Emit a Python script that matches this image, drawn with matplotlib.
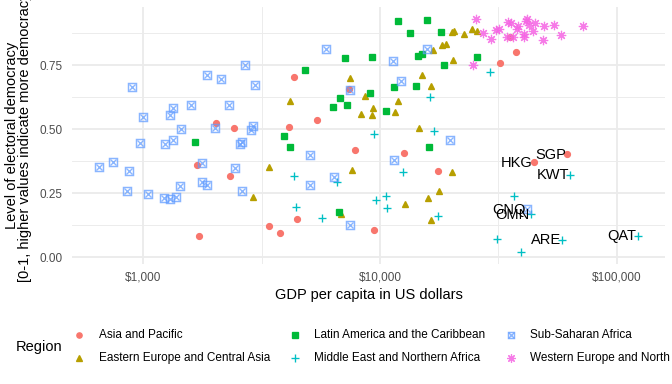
import matplotlib
matplotlib.use('Agg')
import matplotlib.pyplot as plt
from matplotlib.lines import Line2D
from matplotlib.ticker import FixedLocator, FuncFormatter, NullFormatter

plt.rcParams['font.family'] = ['Liberation Sans', 'DejaVu Sans']

# GDP per capita (US$) and electoral democracy index, by region
asia_gdp = [2020, 2420, 4330, 5430, 4120, 1690, 2320, 3380, 1710, 3780, 4460, 7850, 12600,
            17600, 9440, 7380, 35400, 37600, 32200, 61800, 44800]
asia_dem = [0.523, 0.507, 0.705, 0.538, 0.509, 0.361, 0.318, 0.123, 0.085, 0.095, 0.150, 0.420,
            0.406, 0.338, 0.108, 0.658, 0.859, 0.802, 0.759, 0.404, 0.371]

eeca_gdp = [4180, 3380, 2900, 7480, 8630, 9320, 8300, 9260, 20100, 20500, 22600, 24400, 25600,
            16800, 18300, 18900, 20300, 15000, 16400, 11900, 11600, 14600, 7620, 20200, 12800,
            16000, 17700, 6810, 16400]
eeca_dem = [0.612, 0.354, 0.237, 0.702, 0.632, 0.585, 0.560, 0.556, 0.879, 0.883, 0.874, 0.892,
            0.883, 0.810, 0.831, 0.834, 0.771, 0.713, 0.671, 0.612, 0.569, 0.504, 0.343, 0.335,
            0.210, 0.233, 0.259, 0.170, 0.147]

lac_gdp = [4800, 6320, 6760, 3910, 4180, 1650, 7120, 9260, 9080, 7260, 10600, 11900, 15800,
           13400, 18100, 14400, 15100, 18700, 11500, 14200, 25600, 16100, 6680]
lac_dem = [0.730, 0.588, 0.624, 0.475, 0.431, 0.451, 0.779, 0.783, 0.642, 0.595, 0.572, 0.922,
           0.927, 0.877, 0.880, 0.787, 0.796, 0.752, 0.664, 0.668, 0.781, 0.431, 0.177]

mena_gdp = [29200, 16200, 9410, 16900, 12500, 17600, 9570, 10600, 10700, 4340, 4410, 5680, 6600,
            36900, 43500, 31300, 39300, 58700, 123000, 63500]
mena_dem = [0.725, 0.627, 0.481, 0.495, 0.333, 0.163, 0.225, 0.241, 0.193, 0.319, 0.198, 0.155,
            0.294, 0.239, 0.168, 0.073, 0.020, 0.069, 0.085, 0.323]

ssa_gdp = [2680, 1860, 2120, 2960, 895, 1330, 1590, 2310, 993, 1300, 1440, 2000, 2900, 2850,
           5920, 967, 1230, 1330, 2560, 2610, 649, 744, 867, 1770, 2430, 1430, 1760, 1850, 2600,
           856, 1050, 1220, 1300, 1370, 5080, 6360, 5070, 11300, 15800, 12200, 7450, 11400,
           19700, 7430, 41800]
ssa_dem = [0.752, 0.711, 0.698, 0.675, 0.666, 0.584, 0.596, 0.594, 0.550, 0.555, 0.503, 0.504,
           0.514, 0.496, 0.814, 0.447, 0.444, 0.460, 0.443, 0.451, 0.352, 0.374, 0.338, 0.367,
           0.349, 0.280, 0.293, 0.281, 0.259, 0.261, 0.248, 0.232, 0.227, 0.234, 0.399, 0.315,
           0.283, 0.766, 0.815, 0.689, 0.652, 0.379, 0.459, 0.125, 0.189]

weu_gdp = [25500, 27100, 29400, 30900, 31900, 34800, 35700, 34500, 36300, 38400, 38000, 41600,
           41400, 42500, 40400, 40400, 45300, 44300, 49100, 48700, 54200, 58200, 72200, 24600]
weu_dem = [0.930, 0.877, 0.853, 0.886, 0.892, 0.918, 0.917, 0.859, 0.861, 0.902, 0.893, 0.932,
           0.923, 0.909, 0.873, 0.859, 0.917, 0.884, 0.905, 0.848, 0.909, 0.869, 0.904, 0.753]

regions = ['Asia and Pacific', 'Eastern Europe and Central Asia',
           'Latin America and the Caribbean', 'Middle East and Northern Africa',
           'Sub-Saharan Africa', 'Western Europe and North America']
series = [(asia_gdp, asia_dem), (eeca_gdp, eeca_dem), (lac_gdp, lac_dem),
          (mena_gdp, mena_dem), (ssa_gdp, ssa_dem), (weu_gdp, weu_dem)]
colors = ['#F8766D', '#B79F00', '#00BA38', '#00BFC4', '#619CFF', '#F564E3']

# labelled countries: code, region index, point index
labelled = [('SGP', 0, 19), ('HKG', 0, 20), ('KWT', 3, 19), ('GNQ', 4, 44),
            ('OMN', 3, 14), ('ARE', 3, 17), ('QAT', 3, 18)]


def marker_styles(i, scale=1.0):
    c = colors[i]
    if i == 0:
        return [dict(marker='o', ms=4.4 * scale, color=c, mec=c)]
    if i == 1:
        return [dict(marker='^', ms=5 * scale, color=c, mec=c)]
    if i == 2:
        return [dict(marker='s', ms=4.3 * scale, color=c, mec=c)]
    if i == 3:
        return [dict(marker='+', ms=6.5 * scale, color=c, mew=1)]
    if i == 4:
        return [dict(marker='s', ms=5.3 * scale, mfc='none', mec=c, mew=1.1, alpha=0.75),
                dict(marker='x', ms=4.6 * scale, color=c, mew=1.0, alpha=0.75)]
    return [dict(marker=(8, 2, 0), ms=7 * scale, color=c, mew=0.9, alpha=0.85)]


fig = plt.figure(figsize=(7, 4), dpi=96)
ax = fig.add_axes([72 / 672, 1 - 264 / 384, (665 - 72) / 672, (264 - 7) / 384])

for i, (x, y) in enumerate(series):
    for st in marker_styles(i):
        ax.plot(x, y, ls='none', **st)

for code, r, k in labelled:
    ax.annotate(code, (series[r][0][k], series[r][1][k]), xytext=(-1, -0.5),
                textcoords='offset points', ha='right', va='center', fontsize=11)

ax.set_xscale('log')
ax.xaxis.set_major_locator(FixedLocator([1000, 10000, 100000]))
ax.xaxis.set_minor_locator(FixedLocator([316.2, 3162, 31623, 316228]))
ax.xaxis.set_major_formatter(FuncFormatter(lambda v, p: '${:,.0f}'.format(v)))
ax.xaxis.set_minor_formatter(NullFormatter())
ax.yaxis.set_major_locator(FixedLocator([0, 0.25, 0.5, 0.75]))
ax.yaxis.set_minor_locator(FixedLocator([0.125, 0.375, 0.625, 0.875]))
ax.yaxis.set_major_formatter(FuncFormatter(lambda v, p: '{:.2f}'.format(v)))

ax.grid(which='major', color='#EBEBEB', lw=1.4)
ax.grid(which='minor', color='#EBEBEB', lw=0.7)
ax.set_axisbelow(True)
for s in ax.spines.values():
    s.set_visible(False)
ax.tick_params(which='both', length=0, labelsize=8.8, labelcolor='#4D4D4D')
ax.tick_params(axis='x', pad=5.5)
ax.tick_params(axis='y', pad=7)

ax.set_xlabel('GDP per capita in US dollars', fontsize=11, labelpad=3.5)
ax.set_ylabel('Level of electoral democracy\n[0-1, higher values indicate more democracy]',
              fontsize=11, linespacing=0.9, labelpad=6)

# legend at the bottom, laid out like ggplot's
fig.text(15.5 / 672, 1 - 347.3 / 384, 'Region', fontsize=11, va='center', ha='left')
key_x = [79.3, 294.7, 511]
row_y = [334.7, 357.7]
for i, name in enumerate(regions):
    kx = key_x[i // 2]
    ky = row_y[i % 2]
    for st in marker_styles(i, 0.9):
        fig.add_artist(Line2D([kx / 672], [1 - ky / 384], transform=fig.transFigure,
                              ls='none', **st))
    fig.text((kx + 19.3) / 672, 1 - ky / 384, name, fontsize=8.8, va='center', ha='left')

fig.savefig('out.png', dpi=96)
